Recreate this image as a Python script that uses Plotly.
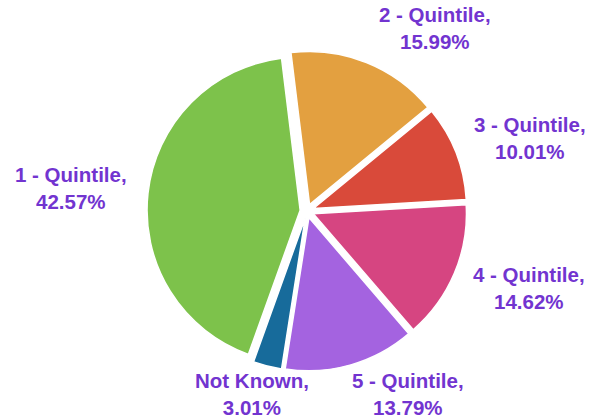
import plotly.graph_objects as go

# Share of records by quintile
categories = ["1 - Quintile", "2 - Quintile", "3 - Quintile", "4 - Quintile", "5 - Quintile", "Not Known"]
shares = [42.57, 15.99, 10.01, 14.62, 13.79, 3.01]
slice_colors = ["#7DC24B", "#E3A040", "#D94A3A", "#D64581", "#A463E0", "#176B9B"]

# Label block centres in pixels (x from left, y from top) for a 591x418 canvas
label_px = [(71, 188), (435, 28), (530, 138), (529, 288), (408, 394), (252, 394)]

W, H = 591, 418
CX, CY, HALF = 307, 211, 160  # pie centre and half-size of its box, in pixels

fig = go.Figure(
    go.Pie(
        labels=categories,
        values=shares,
        sort=False,
        direction="clockwise",
        rotation=-7 - shares[0] * 3.6,
        pull=[0.045] * len(shares),
        marker=dict(colors=slice_colors, line=dict(color="white", width=1.5)),
        textinfo="none",
        hoverinfo="label+value",
        showlegend=False,
        domain=dict(
            x=[(CX - HALF) / W, (CX + HALF) / W],
            y=[(H - CY - HALF) / H, (H - CY + HALF) / H],
        ),
    )
)

for name, val, (px, py) in zip(categories, shares, label_px):
    fig.add_annotation(
        x=px / W,
        y=1 - py / H,
        xref="paper",
        yref="paper",
        text=f"<b>{name},<br>{val:.2f}%</b>",
        showarrow=False,
        xanchor="center",
        yanchor="middle",
        align="center",
        font=dict(family="Liberation Sans, Arial, sans-serif", size=20.5, color="#7234D0"),
    )

fig.update_layout(
    width=W,
    height=H,
    margin=dict(l=0, r=0, t=0, b=0),
    paper_bgcolor="white",
    plot_bgcolor="white",
)

fig.write_html("out.html")
